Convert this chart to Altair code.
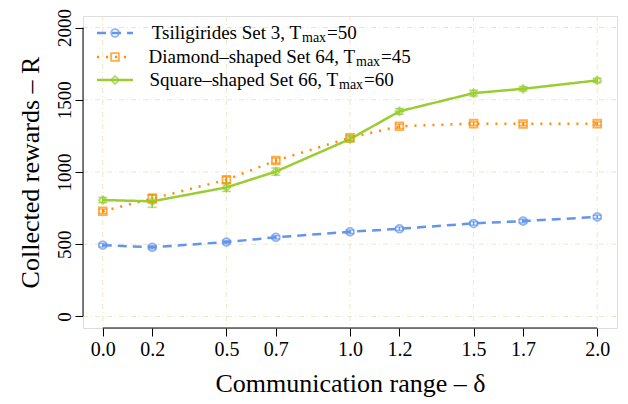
import altair as alt
import pandas as pd

# ---------------- data ----------------
deltas = [0.0, 0.2, 0.5, 0.7, 1.0, 1.2, 1.5, 1.7, 2.0]
series_names = ["Tsiligirides Set 3", "Diamond-shaped Set 64", "Square-shaped Set 66"]
tsili = [493, 479, 515, 548, 586, 607, 644, 660, 689]
tsili_err = [12, 12, 12, 12, 12, 12, 12, 12, 12]
diamond = [728, 816, 946, 1079, 1237, 1317, 1335, 1333, 1335]
diamond_err = [15, 30, 20, 18, 18, 15, 12, 12, 12]
square = [806, 797, 893, 1003, 1228, 1420, 1546, 1576, 1634]
square_err = [18, 42, 28, 25, 20, 20, 20, 15, 15]

x_ticks = [0.0, 0.2, 0.5, 0.7, 1.0, 1.2, 1.5, 1.7, 2.0]
y_ticks = [0, 500, 1000, 1500, 2000]
grid_x = [0.0, 0.5, 1.0, 1.5, 2.0]
grid_y = [0, 500, 1000, 1500, 2000]

legend_main = ["Tsiligirides Set 3, T", "Diamond\u2013shaped Set 64, T", "Square\u2013shaped Set 66, T"]
legend_sub = ["max", "max", "max"]
legend_suffix = ["=50", "=45", "=60"]

colors = ["#6495ED", "#FF8C00", "#9ACD32"]
shapes = ["circle", "square", "diamond"]
dashes = [[9, 6], [2, 7], [1, 0]]

W, H = 534, 312
FONT = "Liberation Serif"

rows = []
for name, vals, errs in zip(series_names, [tsili, diamond, square], [tsili_err, diamond_err, square_err]):
    for d, v, e in zip(deltas, vals, errs):
        rows.append({"series": name, "delta": d, "R": v, "lo": v - e, "hi": v + e})
df = pd.DataFrame(rows)

xs = alt.Scale(domain=[-0.08, 2.08], nice=False, zero=False)
ys = alt.Scale(domain=[-80, 2080], nice=False, zero=False)
col = alt.Color("series:N", scale=alt.Scale(domain=series_names, range=colors), legend=None)

x_axis = alt.Axis(
    values=x_ticks, format=".1f", domain=False, grid=False,
    tickSize=8, tickColor="black", tickWidth=1,
    labelFont=FONT, labelFontSize=20, labelColor="black", labelPadding=3,
    title="Communication range \u2013 \u03b4", titleFont=FONT, titleFontSize=26,
    titleFontWeight="normal", titleColor="black", titlePadding=11,
)
y_axis = alt.Axis(
    values=y_ticks, format="d", domain=False, grid=False,
    tickSize=8, tickColor="black", tickWidth=1,
    labelFont=FONT, labelFontSize=19, labelColor="black", labelAngle=-90,
    labelAlign="center", labelBaseline="bottom", labelPadding=1,
    title="Collected rewards \u2013 R", titleFont=FONT, titleFontSize=26,
    titleFontWeight="normal", titleColor="black", titlePadding=12,
)

grid_col = "#EDE6C8"
gx = alt.Chart(pd.DataFrame({"g": grid_x})).mark_rule(
    color=grid_col, strokeWidth=1, strokeDash=[5, 3, 1, 3]
).encode(x=alt.X("g:Q", scale=xs, axis=x_axis), y=alt.value(0), y2=alt.value(H))
gy = alt.Chart(pd.DataFrame({"g": grid_y})).mark_rule(
    color=grid_col, strokeWidth=1, strokeDash=[5, 3, 1, 3]
).encode(y=alt.Y("g:Q", scale=ys, axis=y_axis), x=alt.value(0), x2=alt.value(W))

base = alt.Chart(df)
lines = base.mark_line(strokeWidth=2.5).encode(
    x=alt.X("delta:Q", scale=xs, axis=x_axis), y=alt.Y("R:Q", scale=ys, axis=y_axis), color=col,
    strokeDash=alt.StrokeDash("series:N", scale=alt.Scale(domain=series_names, range=dashes), legend=None),
)
pts = base.mark_point(filled=False, strokeWidth=1.8, size=60).encode(
    x="delta:Q", y="R:Q", color=col,
    shape=alt.Shape("series:N", scale=alt.Scale(domain=series_names, range=shapes), legend=None),
)
ebar = base.mark_rule(strokeWidth=1.5).encode(x="delta:Q", y="lo:Q", y2="hi:Q", color=col)
cap_lo = base.mark_tick(orient="horizontal", size=9, thickness=1.5).encode(x="delta:Q", y="lo:Q", color=col)
cap_hi = base.mark_tick(orient="horizontal", size=9, thickness=1.5).encode(x="delta:Q", y="hi:Q", color=col)

axis_y_line = alt.Chart(pd.DataFrame({"a": [y_ticks[0]], "b": [y_ticks[-1]]})).mark_rule(
    color="black", strokeWidth=1
).encode(y=alt.Y("a:Q", scale=ys), y2="b:Q", x=alt.value(0))
axis_x_line = alt.Chart(pd.DataFrame({"a": [x_ticks[0]], "b": [x_ticks[-1]]})).mark_rule(
    color="black", strokeWidth=1
).encode(x=alt.X("a:Q", scale=xs), x2="b:Q", y=alt.value(H))

# legend (manual, to allow the subscript)
leg_layers = []
row_y = [17, 41, 64]
sub_x = [219, 273, 256]
for i in range(3):
    one = pd.DataFrame({"s": [series_names[i]], "m": [legend_main[i]], "sub": [legend_sub[i]], "suf": [legend_suffix[i]]})
    c = alt.Chart(one)
    leg_layers.append(c.mark_rule(color=colors[i], strokeWidth=2.5, strokeDash=dashes[i]).encode(
        x=alt.value(14), x2=alt.value(50), y=alt.value(row_y[i])))
    leg_layers.append(c.mark_point(color=colors[i], shape=shapes[i], filled=False, strokeWidth=1.8, size=60).encode(
        x=alt.value(32), y=alt.value(row_y[i])))
    leg_layers.append(c.mark_text(font=FONT, fontSize=19, align="right", baseline="middle", color="black").encode(
        text="m:N", x=alt.value(sub_x[i] - 1), y=alt.value(row_y[i])))
    leg_layers.append(c.mark_text(font=FONT, fontSize=14, align="left", baseline="middle", color="black").encode(
        text="sub:N", x=alt.value(sub_x[i]), y=alt.value(row_y[i] + 5)))
    leg_layers.append(c.mark_text(font=FONT, fontSize=19, align="left", baseline="middle", color="black").encode(
        text="suf:N", x=alt.value(sub_x[i] + 25), y=alt.value(row_y[i])))

chart = alt.layer(
    gx, gy, lines, ebar, cap_lo, cap_hi, pts, axis_y_line, axis_x_line, *leg_layers
).properties(
    width=W, height=H,
    autosize=alt.AutoSizeParams(type="none"),
    padding={"left": 75, "top": 8, "right": 3, "bottom": 80},
).configure_view(stroke=None).configure(background="white")

chart.save("out.html", embed_options={"renderer": "svg", "actions": False})
